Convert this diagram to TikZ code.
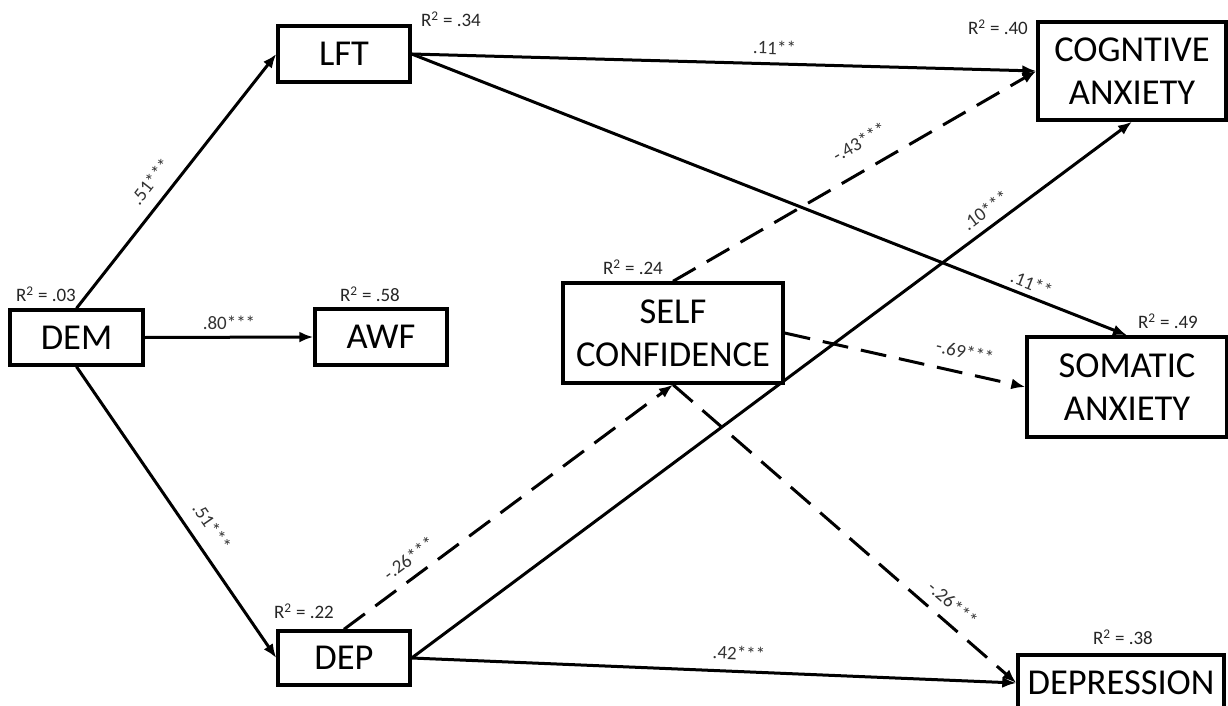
\documentclass[tikz,border=0pt]{standalone}
\usepackage{fontspec}
\setmainfont{Carlito}
\usetikzlibrary{arrows.meta}
\begin{document}
\begin{tikzpicture}[x=1pt,y=-1pt,
  box/.style={draw=black, line width=3.4pt, align=center, inner sep=0pt,
    font=\fontsize{36.5}{43}\selectfont},
  rsq/.style={font=\fontsize{19}{22}\selectfont, text=black!85, inner sep=0pt},
  arr/.style={line width=3pt, -{Latex[length=14pt,width=11pt]}},
  darr/.style={arr, dash pattern=on 26pt off 13pt},
  lab/.style={font=\fontsize{19}{22}\selectfont, text=black!80, sloped, inner sep=2pt}]
\useasboundingbox (0,0) rectangle (1228,706);
\clip (0,0) rectangle (1228,706);
\fill[white] (0,0) rectangle (1228,706);
% nodes
\node[box, minimum width=133pt, minimum height=55pt] (dem) at (76.5,337.5) {DEM};
\node[box, minimum width=132pt, minimum height=56pt] (lft) at (344,54) {LFT};
\node[box, minimum width=132pt, minimum height=56pt] (awf) at (381,337) {AWF};
\node[box, minimum width=220pt, minimum height=100pt] (self) at (673,333) {SELF\\CONFIDENCE};
\node[box, minimum width=188pt, minimum height=98pt] (cog) at (1132,71) {COGNTIVE\\ANXIETY};
\node[box, minimum width=200pt, minimum height=100pt] (som) at (1127,387) {SOMATIC\\ANXIETY};
\node[box, minimum width=132pt, minimum height=54pt] (dep) at (344,658) {DEP};
\node[box, minimum width=206pt, minimum height=56pt] (depr) at (1121,683) {DEPRESSION};
% R^2 labels
\node[rsq] (r03) at (46,294) {R\textsuperscript{2} = .03};
\node[rsq] (r34) at (451,19) {R\textsuperscript{2} = .34};
\node[rsq] (r58) at (370,294) {R\textsuperscript{2} = .58};
\node[rsq] (r24) at (633,267) {R\textsuperscript{2} = .24};
\node[rsq] (r40) at (998,27) {R\textsuperscript{2} = .40};
\node[rsq] (r49) at (1168,321) {R\textsuperscript{2} = .49};
\node[rsq] (r22) at (304,611) {R\textsuperscript{2} = .22};
\node[rsq] (r38) at (1123,637) {R\textsuperscript{2} = .38};
% paths
\draw[arr] (dem.north) -- node[lab, pos=.45, above=10pt] {.51***} (lft.west);
\draw[arr] (dem.east) -- node[lab, pos=.5, above=4pt] {.80***} (awf.west);
\draw[arr] (dem.south) -- node[lab, pos=.59, above=11pt] {.51***} (dep.west);
\draw[arr] (lft.east) -- node[lab, pos=.58, above=6pt] {.11**} (cog.west);
\draw[arr] (lft.east) -- node[lab, pos=.86, above=3pt] {.11**} (som.north);
\draw[darr] (self.north) -- node[lab, pos=.55, above=17pt] {-.43***} (cog.west);
\draw[arr] (dep.east) -- node[lab, pos=.81, above=6pt] {.10***} (cog.south);
\draw[darr] (self.east) -- node[lab, pos=.73, above=11pt] {-.69***} (som.west);
\draw[darr] (dep.north) -- node[lab, pos=.23, above=8pt] {-.26***} (self.south);
\draw[darr] (self.south) -- node[lab, pos=.78, above=8pt] {-.26***} (depr.west);
\draw[arr] (dep.east) -- node[lab, pos=.54, above=8pt] {.42***} (depr.west);
\end{tikzpicture}
\end{document}
